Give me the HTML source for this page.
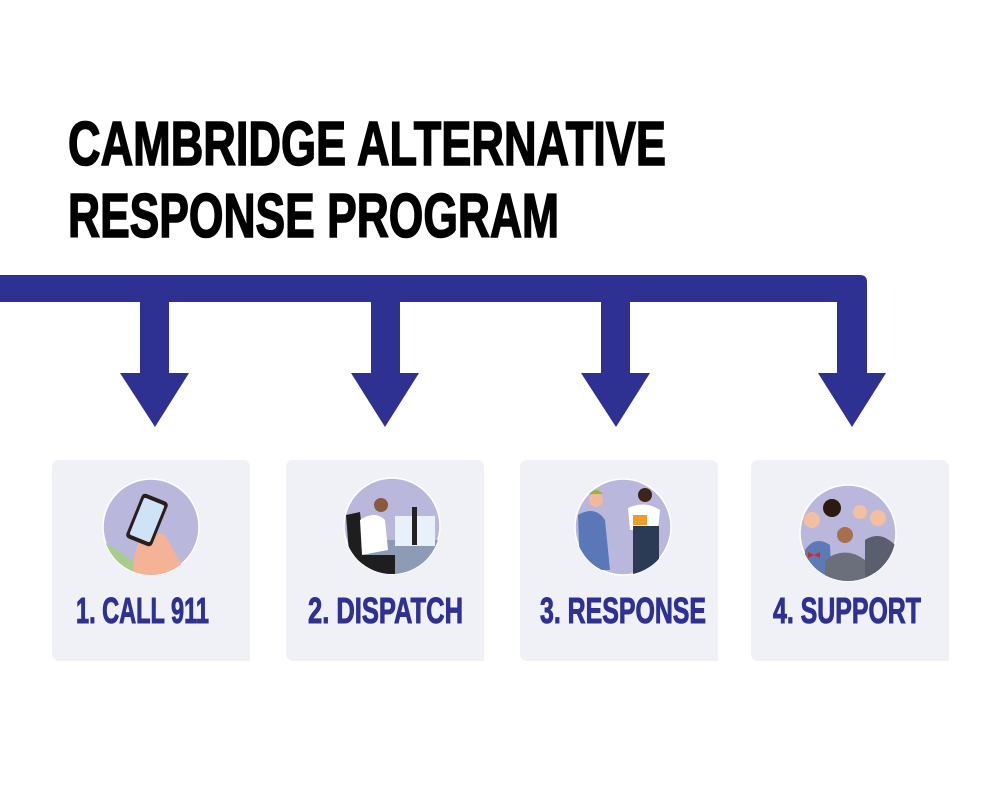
<!DOCTYPE html>
<html><head><meta charset="utf-8"><style>html,body{margin:0;padding:0;background:#fff}svg{display:block}</style></head>
<body>
<svg width="1000" height="793" viewBox="0 0 1000 793" xmlns="http://www.w3.org/2000/svg">
<rect width="1000" height="793" fill="#fff"/>
<g font-family="Liberation Sans, sans-serif" font-weight="bold" fill="#000" stroke="#000" stroke-width="1.6">
<text x="68" y="165" font-size="62" textLength="598" lengthAdjust="spacingAndGlyphs">CAMBRIDGE ALTERNATIVE</text>
<text x="68" y="237" font-size="62" textLength="491" lengthAdjust="spacingAndGlyphs">RESPONSE PROGRAM</text>
</g>
<g fill="#2e3192">
<path d="M0 275 H860 Q867 275 867 282 V373 H886 L852 427 L818 373 H837 V302 H0 Z"/>
<path d="M140 300 H169 V373 H189 L155 427 L120 373 H140 Z"/>
<path d="M371 300 H400 V373 H419 L385 427 L351 373 H371 Z"/>
<path d="M601 300 H630 V373 H650 L616 427 L581 373 H601 Z"/>
</g>
<g fill="#f0f1f7">
<path d="M60 460 H242 Q250 460 250 468 V661 H60 Q52 661 52 653 V468 Q52 460 60 460Z"/>
<path d="M294 460 H476 Q484 460 484 468 V661 H294 Q286 661 286 653 V468 Q286 460 294 460Z"/>
<path d="M528 460 H710 Q718 460 718 468 V661 H528 Q520 661 520 653 V468 Q520 460 528 460Z"/>
<path d="M759 460 H941 Q949 460 949 468 V661 H759 Q751 661 751 653 V468 Q751 460 759 460Z"/>
</g>
<defs>
<clipPath id="c1"><circle cx="151" cy="527" r="48"/></clipPath>
<clipPath id="c2"><circle cx="392" cy="526" r="48"/></clipPath>
<clipPath id="c3"><circle cx="623" cy="527" r="48"/></clipPath>
<clipPath id="c4"><circle cx="848" cy="533" r="48"/></clipPath>
</defs>
<g stroke="#fff" stroke-width="1.5">
<circle cx="151" cy="527" r="48" fill="#bab7dd"/>
<circle cx="392" cy="526" r="48" fill="#bab7dd"/>
<circle cx="623" cy="527" r="48" fill="#bab7dd"/>
<circle cx="848" cy="533" r="48" fill="#bab7dd"/>
</g>
<g clip-path="url(#c1)">
<path d="M100 540 Q130 555 150 580 L100 580Z" fill="#a8cc8c"/>
<path d="M140 540 Q155 530 165 535 L190 580 L135 580 Q130 560 140 540Z" fill="#f4b396"/>
<rect x="133" y="496" width="28" height="48" rx="4" transform="rotate(22 147 520)" fill="#2a1e1e"/>
<rect x="136" y="500" width="22" height="40" rx="2" transform="rotate(22 147 520)" fill="#cfe3f7"/>
</g>
<g clip-path="url(#c2)">
<rect x="350" y="540" width="100" height="40" fill="#8e9bb5"/>
<rect x="395" y="516" width="40" height="30" fill="#e8f1fa"/>
<rect x="412" y="507" width="5" height="38" fill="#222"/>
<path d="M346 515 L360 512 L365 560 L350 565Z" fill="#1e1e1e"/>
<path d="M360 520 Q375 510 385 520 L388 550 L362 555Z" fill="#fff"/>
<circle cx="381" cy="505" r="7" fill="#8a5a3a"/>
<path d="M355 555 H395 V575 H355Z" fill="#1e1e1e"/>
</g>
<g clip-path="url(#c3)">
<path d="M578 515 Q595 505 605 520 L610 570 L580 570Z" fill="#5a78b8"/>
<circle cx="596" cy="500" r="7" fill="#f2b89a"/>
<path d="M589 494 Q596 486 603 494Z" fill="#9fb52e"/>
<path d="M628 508 Q645 500 660 510 L658 530 L630 530Z" fill="#fff"/>
<rect x="633" y="526" width="26" height="50" fill="#2b3a55"/>
<rect x="633" y="515" width="14" height="10" fill="#f29a2e"/>
<circle cx="645" cy="495" r="7" fill="#3d2418"/>
</g>
<g clip-path="url(#c4)">
<path d="M805 550 Q815 535 830 545 L832 590 L805 590Z" fill="#5c7ab5"/>
<circle cx="812" cy="520" r="8" fill="#f2c09e"/>
<circle cx="832" cy="508" r="9" fill="#2a1a12"/>
<circle cx="860" cy="512" r="7" fill="#f2c09e"/>
<circle cx="878" cy="518" r="8" fill="#f2c09e"/>
<path d="M865 540 Q880 530 895 545 L895 590 L865 590Z" fill="#5a5f6e"/>
<path d="M825 560 Q845 545 865 560 L865 590 L825 590Z" fill="#6b6f7c"/>
<circle cx="845" cy="535" r="8" fill="#a6704c"/>
<path d="M808 552 l6 3 l-6 3Z M820 552 l-6 3 l6 3Z" fill="#d8262a"/>
</g>
<g font-family="Liberation Sans, sans-serif" font-weight="bold" fill="#2e3192" stroke="#2e3192" stroke-width="1" font-size="36">
<text x="76" y="623" textLength="133" lengthAdjust="spacingAndGlyphs">1. CALL 911</text>
<text x="308" y="623" textLength="155" lengthAdjust="spacingAndGlyphs">2. DISPATCH</text>
<text x="540" y="623" textLength="166" lengthAdjust="spacingAndGlyphs">3. RESPONSE</text>
<text x="773" y="623" textLength="148" lengthAdjust="spacingAndGlyphs">4. SUPPORT</text>
</g>
</svg>
</body></html>
